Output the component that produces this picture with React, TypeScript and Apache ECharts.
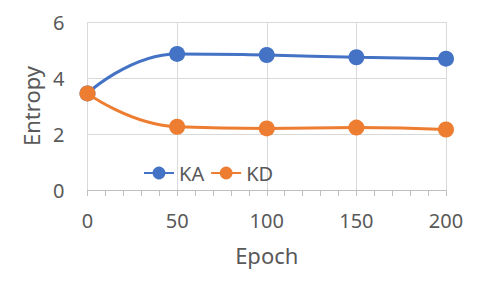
import React, { useEffect, useRef } from "react";
import * as echarts from "echarts";

const epochs = [0, 50, 100, 150, 200];
const kaValues = [3.45, 4.86, 4.82, 4.74, 4.69];
const kdValues = [3.45, 2.26, 2.2, 2.23, 2.16];
const yTicks = [0, 2, 4, 6];

const FONT = "'Noto Sans', sans-serif";

export default function App() {
  const ref = useRef<HTMLDivElement>(null);
  useEffect(() => {
    if (!ref.current) return;
    const chart = echarts.init(ref.current, undefined, { renderer: "svg" });
    const toPairs = (vals: number[]) => epochs.map((e, i) => [e, vals[i]]);
    chart.setOption({
      animation: false,
      backgroundColor: "#ffffff",
      textStyle: { fontFamily: FONT },
      grid: { left: 87.5, right: 33, top: 22, bottom: 97, containLabel: false },
      legend: {
        left: 138,
        top: 158,
        itemWidth: 30,
        itemHeight: 16,
        itemGap: 6,
        textStyle: { fontSize: 20, color: "#595959", fontFamily: FONT },
        data: ["KA", "KD"],
      },
      xAxis: {
        type: "value",
        min: 0,
        max: 200,
        interval: 50,
        name: "Epoch",
        nameLocation: "middle",
        nameGap: 54,
        nameTextStyle: { fontSize: 22, color: "#595959", fontFamily: FONT },
        axisLine: { show: true, lineStyle: { color: "#bfbfbf", width: 1 } },
        axisTick: { show: true, length: 6, lineStyle: { color: "#bfbfbf" } },
        minorTick: { show: true, splitNumber: 5, length: 6, lineStyle: { color: "#bfbfbf" } },
        splitLine: { show: true, lineStyle: { color: "#d9d9d9", width: 1 } },
        axisLabel: { fontSize: 20, color: "#595959", margin: 20, fontFamily: FONT },
      },
      yAxis: {
        type: "value",
        min: yTicks[0],
        max: yTicks[yTicks.length - 1],
        interval: 2,
        name: "Entropy",
        nameLocation: "middle",
        nameGap: 42,
        nameTextStyle: { fontSize: 22, color: "#595959", fontFamily: FONT },
        axisLine: { show: false },
        axisTick: { show: false },
        splitLine: { show: true, lineStyle: { color: "#d9d9d9", width: 1 } },
        axisLabel: { fontSize: 20, color: "#595959", margin: 23, fontFamily: FONT },
      },
      series: [
        {
          name: "KA",
          type: "line",
          data: toPairs(kaValues),
          smooth: 0.5,
          symbol: "circle",
          symbolSize: 16,
          lineStyle: { color: "#4472C4", width: 3 },
          itemStyle: { color: "#4472C4" },
          z: 2,
        },
        {
          name: "KD",
          type: "line",
          data: toPairs(kdValues),
          smooth: 0.5,
          symbol: "circle",
          symbolSize: 16,
          lineStyle: { color: "#ED7D31", width: 3 },
          itemStyle: { color: "#ED7D31" },
          z: 3,
        },
      ],
    });
    return () => chart.dispose();
  }, []);
  return <div ref={ref} style={{ width: 479, height: 287, position: "absolute", left: 0, top: 0 }} />;
}
